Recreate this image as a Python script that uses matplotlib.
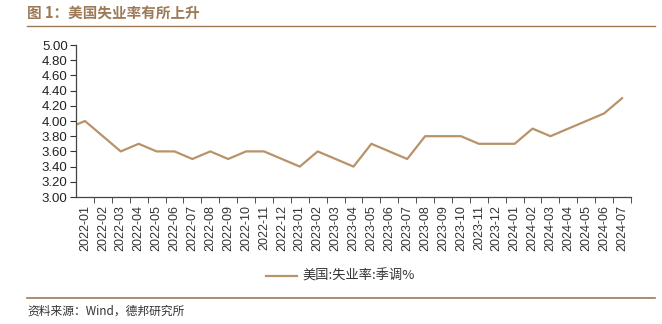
import matplotlib

matplotlib.use("Agg")
import matplotlib.pyplot as plt
from matplotlib.lines import Line2D

plt.rcParams["font.family"] = ["Liberation Sans", "Noto Sans CJK SC", "DejaVu Sans"]

# monthly unemployment rate, seasonally adjusted (%)
months = ["2021-12"] + [f"2022-{m:02d}" for m in range(1, 13)] \
    + [f"2023-{m:02d}" for m in range(1, 13)] + [f"2024-{m:02d}" for m in range(1, 8)]
unemp = [3.9,
         4.0, 3.8, 3.6, 3.7, 3.6, 3.6, 3.5, 3.6, 3.5, 3.6, 3.6, 3.5,
         3.4, 3.6, 3.5, 3.4, 3.7, 3.6, 3.5, 3.8, 3.8, 3.8, 3.7, 3.7,
         3.7, 3.9, 3.8, 3.9, 4.0, 4.1, 4.3]
yticks = [3.0, 3.2, 3.4, 3.6, 3.8, 4.0, 4.2, 4.4, 4.6, 4.8, 5.0]
series_name = "美国:失业率:季调%"

LINE_C = "#B8936A"
BROWN = "#9C7A58"
CJK = ["Noto Sans CJK SC", "DejaVu Sans"]

fig = plt.figure(figsize=(6.62, 3.24), dpi=100)
ax = fig.add_axes([76 / 662, 1 - 197 / 324, (631 - 76) / 662, (197 - 45) / 324])

x = list(range(-1, len(months) - 1))
ax.plot(x, unemp, color=LINE_C, lw=1.6, clip_on=True)

shown = months[1:]
ax.set_xlim(-0.5, len(shown) - 0.5)
ax.set_ylim(3.0, 5.0)
ax.set_yticks(yticks)
ax.set_yticklabels([f"{v:.2f}" for v in yticks], fontsize=9.5, color="#222222")
ax.set_xticks(range(len(shown)))
ax.set_xticklabels(shown, rotation=90, fontsize=9, color="#333333")
ax.set_xticks([i + 0.5 for i in range(len(shown))], minor=True)
ax.tick_params(axis="x", which="major", length=0, pad=6)
ax.tick_params(axis="x", which="minor", length=4, direction="out", color="#333333")
ax.tick_params(axis="y", length=4, direction="out", color="#333333", pad=2)
for s in ("top", "right"):
    ax.spines[s].set_visible(False)
for s in ("left", "bottom"):
    ax.spines[s].set_color("#444444")
    ax.spines[s].set_linewidth(0.9)

# title and separators
fig.text(27 / 662, 1 - 13 / 324, "图 1：美国失业率有所上升", fontsize=10.5, fontweight="bold",
         color=BROWN, family=CJK, va="center", ha="left")
fig.add_artist(Line2D([27 / 662, 655 / 662], [1 - 25.5 / 324] * 2, color=BROWN, lw=1.0))
fig.add_artist(Line2D([27 / 662, 655 / 662], [1 - 298 / 324] * 2, color=BROWN, lw=1.2))

# legend
fig.add_artist(Line2D([266 / 662, 297 / 662], [1 - 276 / 324] * 2, color=LINE_C, lw=1.6))
fig.text(302 / 662, 1 - 276 / 324, series_name, fontsize=9.5, color="#333333",
         family=CJK, va="center", ha="left")

fig.text(27 / 662, 1 - 311 / 324, "资料来源：Wind，德邦研究所", fontsize=8.5, color="#333333",
         family=CJK, va="center", ha="left")

fig.savefig("out.png", dpi=100)
